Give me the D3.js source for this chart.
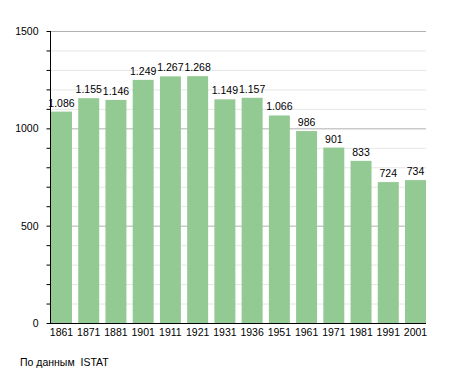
<!DOCTYPE html>
<html lang="en">
<head>
    <style>
        body { margin: 0; background: #fff; }
        svg { font-family: "Liberation Sans", Arial, sans-serif; }
    </style>
    <script src="https://d3js.org/d3.v7.min.js"></script>
</head>
<body>
    <svg id="chart" width="455" height="373"></svg>
    <script>
        // Data
        const years = ["1861", "1871", "1881", "1901", "1911", "1921", "1931", "1936", "1951", "1961", "1971", "1981", "1991", "2001"];
        const population = [1086, 1155, 1146, 1249, 1267, 1268, 1149, 1157, 1066, 986, 901, 833, 724, 734];
        const yTicks = [0, 500, 1000, 1500];

        const svg = d3.select("#chart");
        const m = { left: 50, right: 426, top: 31, bottom: 323 };

        const x = d3.scaleBand().domain(years).range([m.left + 1, m.right]).paddingInner(0.23).paddingOuter(0);
        const y = d3.scaleLinear().domain([0, 1500]).range([m.bottom, m.top]);

        // minor grid every 100
        svg.append("g").selectAll("line")
            .data(d3.range(100, 1600, 100).filter(d => d % 500 !== 0))
            .join("line")
            .attr("x1", m.left).attr("x2", m.right)
            .attr("y1", d => y(d) + 0.5).attr("y2", d => y(d) + 0.5)
            .attr("stroke", "#e6e6e6");

        // major grid
        svg.append("g").selectAll("line")
            .data(yTicks.filter(d => d > 0))
            .join("line")
            .attr("x1", m.left).attr("x2", m.right)
            .attr("y1", d => y(d) + 0.5).attr("y2", d => y(d) + 0.5)
            .attr("stroke", "#b0b0b0");

        // bars
        svg.append("g").selectAll("rect")
            .data(population)
            .join("rect")
            .attr("x", (d, i) => x(years[i]))
            .attr("width", x.bandwidth())
            .attr("y", d => y(d))
            .attr("height", d => y(0) - y(d))
            .attr("fill", "#93c993");

        // value labels
        const fmt = d => d >= 1000 ? Math.floor(d / 1000) + "." + String(d % 1000).padStart(3, "0") : String(d);
        svg.append("g").selectAll("text")
            .data(population)
            .join("text")
            .attr("x", (d, i) => x(years[i]) + x.bandwidth() / 2)
            .attr("y", d => y(d) - 5)
            .attr("text-anchor", "middle")
            .attr("font-size", 10.5)
            .attr("fill", "#000")
            .text(fmt);

        // y axis
        const yAxis = d3.axisLeft(y).tickValues(d3.range(0, 1600, 100)).tickSize(4)
            .tickFormat(d => yTicks.includes(d) ? d : "");
        const gy = svg.append("g").attr("transform", `translate(${m.left + 0.5},0)`).call(yAxis);
        gy.select(".domain").attr("stroke", "#000").attr("d", `M0,${m.top}V${m.bottom}`);
        gy.selectAll(".tick text").attr("font-size", 10.5).attr("font-family", "Liberation Sans, Arial, sans-serif").attr("x", -12);
        gy.selectAll(".tick line").attr("stroke", "#000");

        // x axis
        const xAxis = d3.axisBottom(x).tickSize(0).tickPadding(5);
        const gx = svg.append("g").attr("transform", `translate(0,${m.bottom + 0.5})`).call(xAxis);
        gx.select(".domain").attr("stroke", "#000").attr("d", `M${m.left},0H${m.right}`);
        gx.selectAll(".tick text").attr("font-size", 10.5).attr("font-family", "Liberation Sans, Arial, sans-serif");

        // source note
        svg.append("text")
            .attr("x", 20).attr("y", 366)
            .attr("font-size", 10.5)
            .style("white-space", "pre")
            .text("По данным  ISTAT");
    </script>
</body>
</html>
